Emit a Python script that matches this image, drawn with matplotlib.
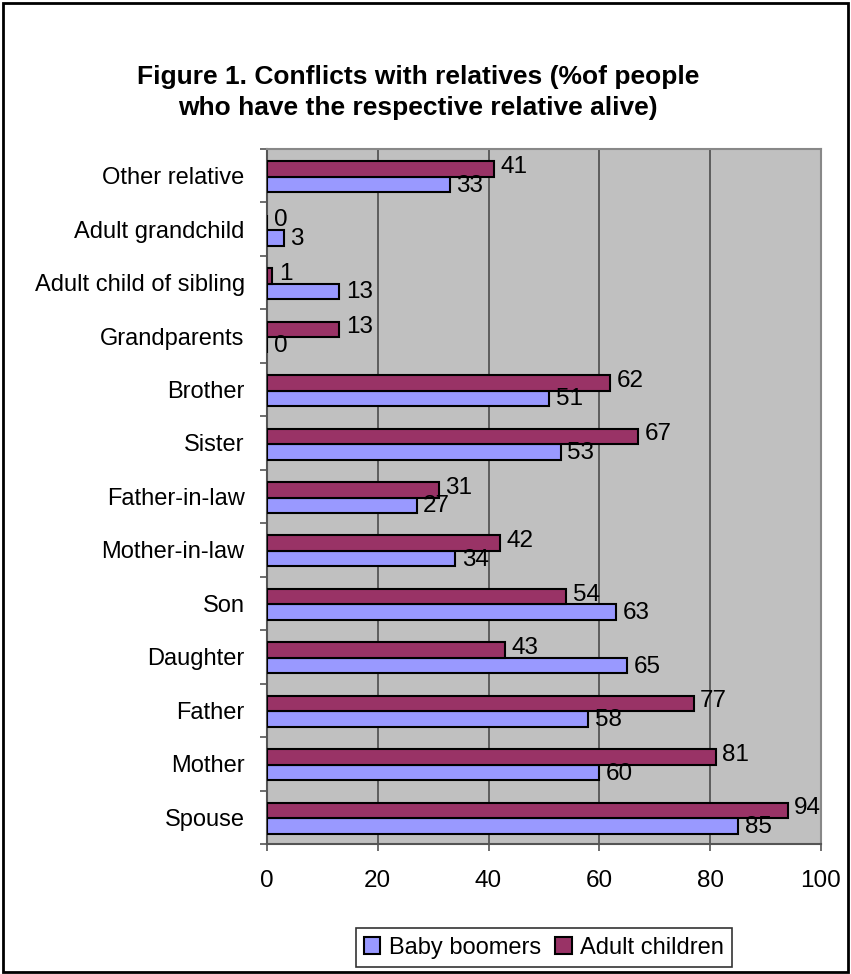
import numpy as np
import matplotlib.pyplot as plt
from matplotlib.patches import Rectangle

# data (bottom to top)
categories = ["Spouse", "Mother", "Father", "Daughter", "Son", "Mother-in-law",
              "Father-in-law", "Sister", "Brother", "Grandparents",
              "Adult child of sibling", "Adult grandchild", "Other relative"]
boomers = [85, 60, 58, 65, 63, 34, 27, 53, 51, 0, 13, 3, 33]
adult_children = [94, 81, 77, 43, 54, 42, 31, 67, 62, 13, 1, 0, 41]
xticks = [0, 20, 40, 60, 80, 100]

plt.rcParams['font.family'] = ['Liberation Sans', 'DejaVu Sans']

fig = plt.figure(figsize=(8.51, 9.74), dpi=100)
ax = fig.add_axes([0.3137, 0.1335, 0.651, 0.7136])

y = np.arange(len(categories))
h = 0.29
b1 = ax.barh(y - h/2 - 0.02, boomers, height=h, color="#9999FF", edgecolor="black",
             linewidth=1.5, label="Baby boomers", zorder=3)
b2 = ax.barh(y + h/2 - 0.02, adult_children, height=h, color="#993366", edgecolor="black",
             linewidth=1.5, label="Adult children", zorder=3)

# value labels
for yy, v in zip(y, boomers):
    ax.text(v + 1.2, yy - h/2 - 0.04, str(v), va="center", ha="left", fontsize=17.5, zorder=4)
for yy, v in zip(y, adult_children):
    ax.text(v + 1.2, yy + h/2 + 0.02, str(v), va="center", ha="left", fontsize=17.5, zorder=4)

ax.set_facecolor("#C0C0C0")
ax.set_xlim(0, 100)
ax.set_ylim(-0.5, len(categories) - 0.5)
ax.set_xticks(xticks)
ax.set_xticklabels([str(t) for t in xticks], fontsize=17.5)
ax.set_yticks(y)
ax.set_yticklabels(categories, fontsize=17)
ax.set_yticks(np.arange(len(categories) + 1) - 0.5, minor=True)
ax.tick_params(axis="y", which="major", length=0, pad=16)
ax.tick_params(axis="y", which="minor", length=5, width=1.2, color="#555555")
ax.tick_params(axis="x", length=5, width=1.2, color="#555555", pad=14)
ax.grid(axis="x", color="#555555", linewidth=1.3, zorder=1)
for s in ["top", "right"]:
    ax.spines[s].set_color("#888888")
    ax.spines[s].set_linewidth(1.5)
for s in ["left", "bottom"]:
    ax.spines[s].set_color("#555555")
    ax.spines[s].set_linewidth(1.5)

fig.text(0.491, 0.905, "Figure 1. Conflicts with relatives (%of people\nwho have the respective relative alive)",
         ha="center", va="center", fontsize=19, fontweight="bold", linespacing=1.35)

leg = fig.legend(handles=[b1, b2], loc="center", bbox_to_anchor=(0.639, 0.027),
                 ncol=2, fontsize=17, frameon=True, fancybox=False,
                 handlelength=0.7, handleheight=0.7, handletextpad=0.35,
                 columnspacing=0.6, borderpad=0.35)
leg.get_frame().set_edgecolor("black")
leg.get_frame().set_linewidth(1.2)

fig.patches.append(Rectangle((0.003, 0.002), 0.994, 0.995, transform=fig.transFigure,
                             fill=False, edgecolor="black", linewidth=2))

fig.savefig("out.png", dpi=100)
